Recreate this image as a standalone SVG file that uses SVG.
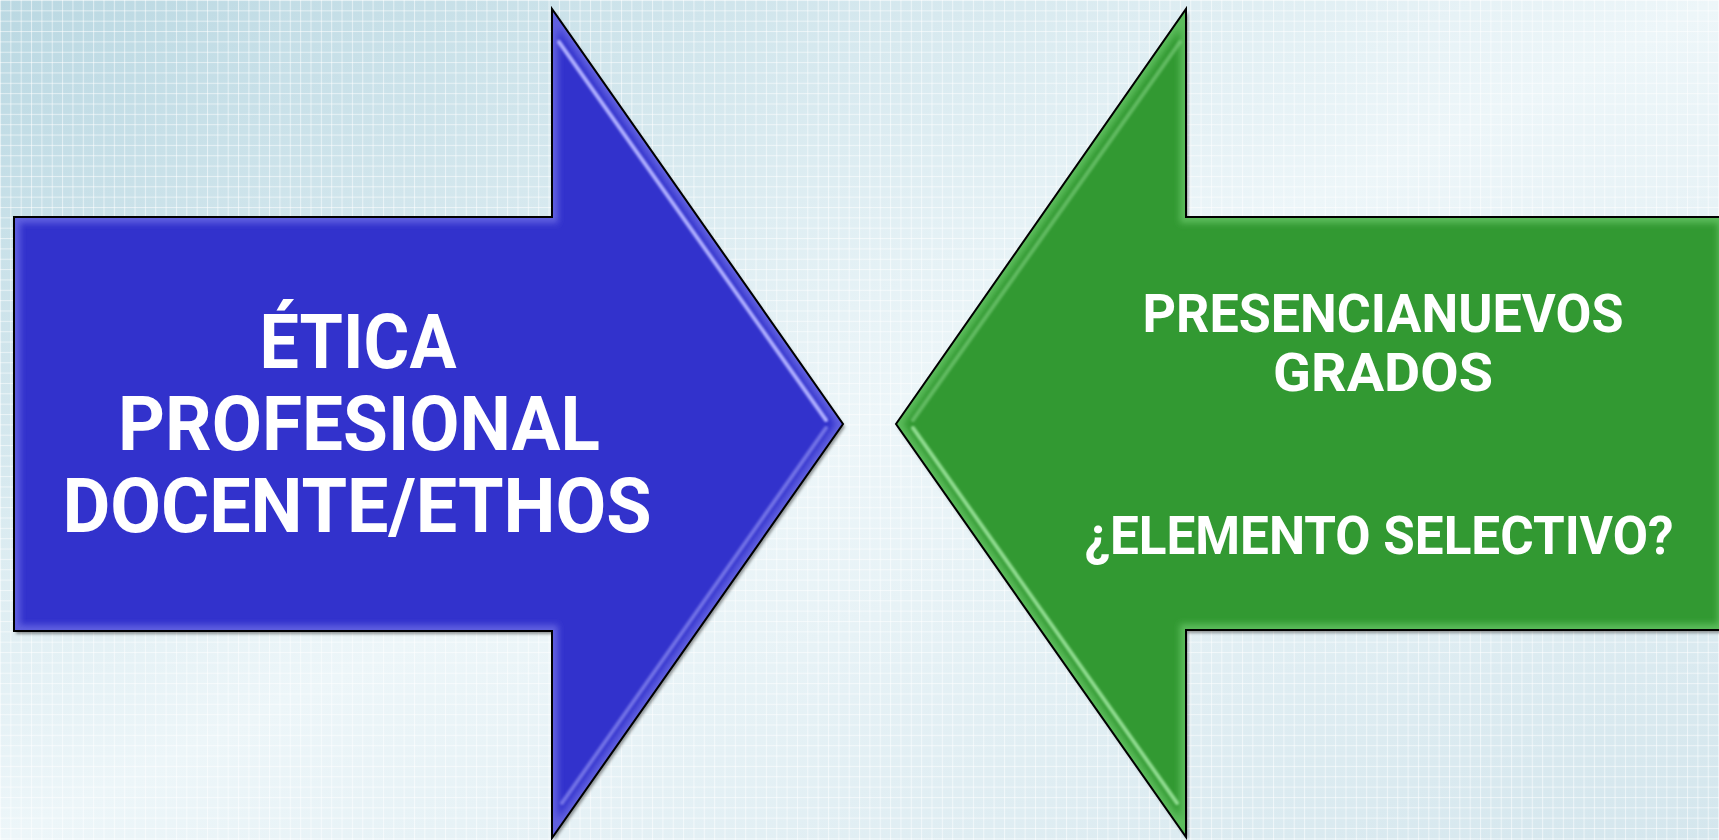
<svg xmlns="http://www.w3.org/2000/svg" width="1719" height="840" viewBox="0 0 1719 840">
<style>
.lbl{font-family:Roboto,"Liberation Sans",Arial,sans-serif;font-weight:700;fill:#ffffff;text-anchor:middle}
.big{font-size:76px}
.med{font-size:54px}
.edge{fill:none;stroke:#000;stroke-width:2;stroke-linejoin:miter}
.hiB{fill:none;stroke:#aeaeff;stroke-width:4;stroke-linecap:round;filter:url(#soft)}
.hiG{fill:none;stroke:#8fdc8f;stroke-width:4;stroke-linecap:round;filter:url(#soft)}
</style>
<defs>
<linearGradient id="bg" x1="0" y1="0" x2="1" y2="1">
<stop offset="0" stop-color="#bad8e2"/>
<stop offset="0.5" stop-color="#edf6f9"/>
<stop offset="1" stop-color="#d4e6ed"/>
</linearGradient>
<pattern id="grid" patternUnits="userSpaceOnUse" width="10.35" height="10.35">
<rect x="0" y="0" width="1" height="10.35" fill="#ffffff" fill-opacity="0.55"/>
<rect x="0" y="0" width="10.35" height="1" fill="#ffffff" fill-opacity="0.55"/>
</pattern>
<filter id="soft" x="-10%" y="-10%" width="120%" height="120%">
<feGaussianBlur stdDeviation="1.3"/>
</filter>
<filter id="glow" x="-10%" y="-10%" width="120%" height="120%">
<feGaussianBlur stdDeviation="3"/>
</filter>
<filter id="shadow" x="-5%" y="-5%" width="110%" height="110%">
<feDropShadow dx="2" dy="3" stdDeviation="1.5" flood-color="#000" flood-opacity="0.4"/>
</filter>
<path id="blueShape" d="M14,217 H552 V9 L843,424 L552,838 V631 H14 Z"/>
<path id="greenShape" d="M1724,217 H1186 V9 L896,424 L1186,837 V630 H1724 Z"/>
<clipPath id="clipB"><use href="#blueShape"/></clipPath>
<clipPath id="clipG"><use href="#greenShape"/></clipPath>
</defs>

<rect x="0" y="0" width="1719" height="840" fill="url(#bg)"/>
<rect x="0" y="0" width="1719" height="840" fill="url(#grid)"/>

<g id="node-etica">
<use href="#blueShape" fill="#3333cc" filter="url(#shadow)"/>
<g clip-path="url(#clipB)">
<use href="#blueShape" fill="none" stroke="#6060e0" stroke-width="12" filter="url(#glow)"/>
</g>
<polyline class="hiB" points="26,229 564,229"/>
<polyline class="hiB" points="559,42 826,420"/>
<polyline class="hiB" points="26,619 564,619"/>
<polyline class="hiB" points="826,428 562,803" stroke-opacity="0.5"/>
<use href="#blueShape" class="edge"/>
<text class="lbl big" x="358" y="368" textLength="197" lengthAdjust="spacingAndGlyphs">ÉTICA</text>
<text class="lbl big" x="359" y="450" textLength="482" lengthAdjust="spacingAndGlyphs">PROFESIONAL</text>
<text class="lbl big" x="357" y="532" textLength="589" lengthAdjust="spacingAndGlyphs">DOCENTE/ETHOS</text>
</g>

<g id="node-presencia">
<use href="#greenShape" fill="#339933" filter="url(#shadow)"/>
<g clip-path="url(#clipG)">
<use href="#greenShape" fill="none" stroke="#5cbc5c" stroke-width="12" filter="url(#glow)"/>
</g>
<polyline class="hiG" points="1713,229 1175,229"/>
<polyline class="hiG" points="1180,42 913,420" stroke-opacity="0.5"/>
<polyline class="hiG" points="1713,618 1175,618"/>
<polyline class="hiG" points="913,428 1177,803"/>
<use href="#greenShape" class="edge"/>
<text class="lbl med" x="1383" y="332" textLength="481" lengthAdjust="spacingAndGlyphs">PRESENCIANUEVOS</text>
<text class="lbl med" x="1383" y="391" textLength="220" lengthAdjust="spacingAndGlyphs">GRADOS</text>
<text class="lbl med" x="1379" y="554" textLength="589" lengthAdjust="spacingAndGlyphs">¿ELEMENTO SELECTIVO?</text>
</g>

<g id="connectors"></g>
</svg>
